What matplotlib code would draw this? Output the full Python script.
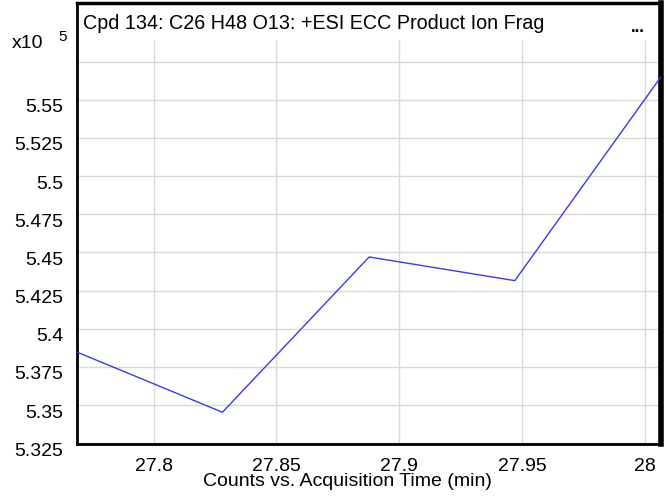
import matplotlib
matplotlib.use('Agg')
import matplotlib.pyplot as plt
from matplotlib.transforms import ScaledTranslation
from matplotlib.patches import Rectangle

plt.rcParams['font.family'] = ['Liberation Sans', 'DejaVu Sans']

# data (x10^5 counts vs acquisition time)
acq_time = [27.7688, 27.828, 27.8877, 27.947, 28.0065]
counts = [5.3847, 5.3453, 5.447, 5.4315, 5.565]

x_ticks = [27.8, 27.85, 27.9, 27.95, 28.0]
x_tick_labels = ['27.8', '27.85', '27.9', '27.95', '28']
y_ticks = [5.325, 5.35, 5.375, 5.4, 5.425, 5.45, 5.475, 5.5, 5.525, 5.55, 5.575]
y_tick_labels = ['5.325', '5.35', '5.375', '5.4', '5.425', '5.45', '5.475', '5.5', '5.525', '5.55', '']

title = 'Cpd 134: C26 H48 O13: +ESI ECC Product Ion Frag'
xlabel = 'Counts vs. Acquisition Time (min)'

W, H = 666, 496
fig = plt.figure(figsize=(W / 100, H / 100), dpi=100)
left, right, top, bottom = 77, 661, 3, 444
ax = fig.add_axes([left / W, 1 - bottom / H, (right - left) / W, (bottom - top) / H])

ax.plot(acq_time, counts, color='#3a3ae6', lw=1.0, zorder=3)

ax.set_xlim(acq_time[0], acq_time[-1])
ymin = 5.3245
px_per_unit = 1526.7
ax.set_ylim(ymin, ymin + (bottom - top) / px_per_unit)

ax.set_xticks(x_ticks)
ax.set_xticklabels(x_tick_labels)
ax.set_yticks(y_ticks)
ax.set_yticklabels(y_tick_labels)
ax.tick_params(axis='both', length=0, labelsize=14, colors='black')
ax.tick_params(axis='y', pad=10)
ax.tick_params(axis='x', pad=10)
ax.grid(True, color='#d9d9d9', lw=1.0, zorder=0)
ax.set_axisbelow(True)

# shift y tick labels a bit below their grid lines
for lab in ax.get_yticklabels():
    lab.set_transform(lab.get_transform() + ScaledTranslation(0, -6 / 100, fig.dpi_scale_trans))

for s in ['left', 'bottom']:
    ax.spines[s].set_linewidth(2)
ax.spines['top'].set_linewidth(2.5)
ax.spines['right'].set_linewidth(4)

# white title band inside the frame
band = (40 - top) / (bottom - top)
ax.add_patch(Rectangle((0, 1 - band), 1, band, transform=ax.transAxes,
                       facecolor='white', edgecolor='none', zorder=2))
ax.text(6 / (right - left), 1 - 21 / (bottom - top), title, transform=ax.transAxes,
        fontsize=14.2, ha='left', va='center', zorder=4)
ax.text(1 - 16 / (right - left), 1 - 25 / (bottom - top), '...', transform=ax.transAxes,
        fontsize=12, fontweight='bold', ha='right', va='center', zorder=4)

fig.text(12 / W, 1 - 43 / H, 'x10', fontsize=14, ha='left', va='center')
fig.text(58 / W, 1 - 37 / H, '5', fontsize=11, ha='left', va='center')
fig.text(347 / W, 1 - 482 / H, xlabel, fontsize=14, ha='center', va='center')

fig.savefig('out.png', dpi=100)
